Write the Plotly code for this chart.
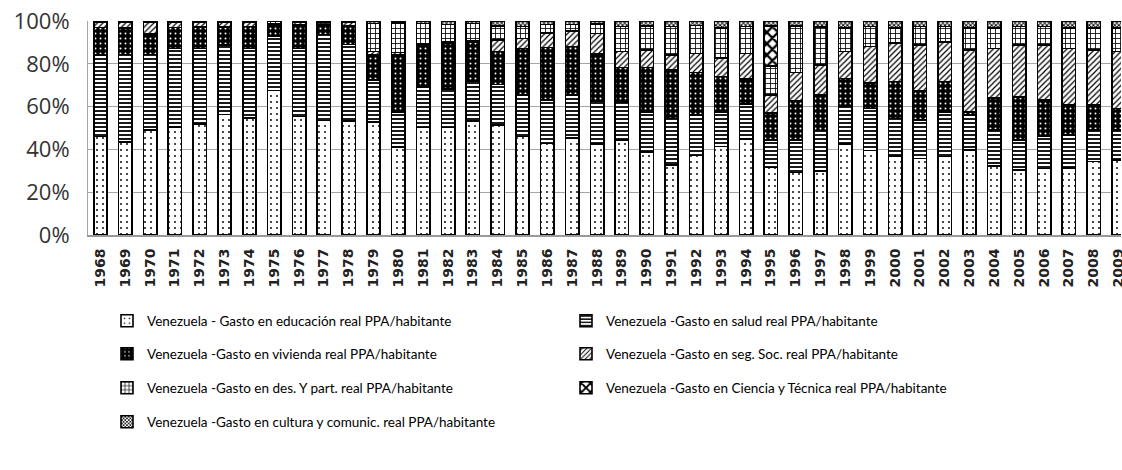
import plotly.graph_objects as go

years = ["1968", "1969", "1970", "1971", "1972", "1973", "1974", "1975", "1976", "1977",
         "1978", "1979", "1980", "1981", "1982", "1983", "1984", "1985", "1986", "1987",
         "1988", "1989", "1990", "1991", "1992", "1993", "1994", "1995", "1996", "1997",
         "1998", "1999", "2000", "2001", "2002", "2003", "2004", "2005", "2006", "2007",
         "2008", "2009"]

educacion = [46, 43.6, 49, 50.6, 51.9, 56.4, 54.8, 67.5, 55.3, 53.5,
             53.3, 52.8, 41, 50.2, 50.2, 53.3, 51.4, 46, 42.7, 45.3,
             42.6, 44.4, 38.9, 32.7, 37.1, 41.3, 45, 31.5, 29.2, 30,
             42.5, 39.4, 36.9, 35.8, 36.6, 39.7, 32.2, 30.4, 31, 31.2,
             34.3, 35]
salud = [38, 40.8, 35.4, 36.6, 35.3, 32.4, 32.4, 25.6, 31.9, 40.2,
         35.8, 19.6, 16.2, 19.1, 18, 18.8, 19, 19.4, 20.4, 20.1,
         19.7, 17.6, 18.7, 21.8, 19, 16.3, 16.1, 12.9, 15.2, 18.9,
         17.8, 19.8, 17.6, 17.9, 21, 16.4, 16.9, 14, 15, 15.5,
         14.8, 14.1]
vivienda = [13, 12.2, 9.4, 9.7, 10, 8.4, 10.2, 5.4, 10.9, 4.6,
            8.7, 11.9, 27, 19.5, 21.4, 18.2, 15.3, 21.8, 24.5, 22.6,
            22.2, 16.3, 20.6, 22.6, 19.8, 16.4, 11.7, 12.5, 18.4, 16.7,
            12.9, 11.7, 17.2, 13.7, 14.1, 1.5, 14.8, 20.2, 17.4, 14,
            11.6, 10.1]
seg_soc = [2.6, 3, 5.8, 2.7, 2.4, 2.4, 2.2, 0, 1.5, 0,
           1.8, 1.4, 1.1, 0.5, 0.5, 0.5, 5.4, 4.7, 6.9, 7.2,
           9.7, 7.4, 8.2, 7, 9, 8.6, 12.1, 8.5, 13.1, 13.8,
           12.5, 17.1, 17.9, 21.4, 18.6, 28.8, 23.3, 24.2, 25.4, 26.5,
           25.7, 26.5]
des_part = [0, 0, 0, 0, 0, 0, 0, 1.2, 0, 1.3,
            0, 13.2, 13.8, 9.6, 8.3, 8.1, 6.7, 5.5, 3.9, 3.2,
            4.4, 11.7, 11.4, 13.3, 13, 14, 12.5, 13.6, 21.8, 17.8,
            10.9, 9.4, 7, 8.6, 7.1, 10.2, 9.4, 8.6, 8.6, 9.4,
            10.2, 10.9]
ciencia = [0, 0, 0, 0, 0, 0, 0, 0, 0, 0,
           0, 0, 0, 0, 0, 0, 0, 0, 0, 0,
           0, 0, 0, 0, 0, 0, 0, 18.6, 0, 0,
           0, 0, 0, 0, 0, 0, 0, 0, 0, 0,
           0, 0]
cultura = [0.4, 0.4, 0.4, 0.4, 0.4, 0.4, 0.4, 0.3, 0.4, 0.4,
           0.4, 1.1, 0.9, 1.1, 1.6, 1.1, 2.2, 2.6, 1.6, 1.6,
           1.4, 2.6, 2.2, 2.6, 2.1, 3.4, 2.6, 2.4, 2.3, 2.8,
           3.4, 2.6, 3.4, 2.6, 2.6, 3.4, 3.4, 2.6, 2.6, 3.4,
           3.4, 3.4]

y_ticks = [0, 20, 40, 60, 80, 100]
y_tick_labels = ["0%", "20%", "40%", "60%", "80%", "100%"]

names = [
    "Venezuela - Gasto en educación real PPA/habitante",
    "Venezuela -Gasto en salud real PPA/habitante",
    "Venezuela -Gasto en vivienda real PPA/habitante",
    "Venezuela -Gasto en seg. Soc. real PPA/habitante",
    "Venezuela -Gasto en des. Y part. real PPA/habitante",
    "Venezuela -Gasto en Ciencia y Técnica real PPA/habitante",
    "Venezuela -Gasto en cultura y comunic. real PPA/habitante",
]
series = [educacion, salud, vivienda, seg_soc, des_part, ciencia, cultura]
patterns = [
    dict(shape=".", fgcolor="black", bgcolor="white", size=6, solidity=0.08, fillmode="replace"),
    dict(shape="-", fgcolor="black", bgcolor="white", size=4, solidity=0.45, fillmode="replace"),
    dict(shape=".", fgcolor="white", bgcolor="black", size=5, solidity=0.12, fillmode="replace"),
    dict(shape="/", fgcolor="black", bgcolor="white", size=4, solidity=0.3, fillmode="replace"),
    dict(shape="+", fgcolor="black", bgcolor="white", size=5, solidity=0.3, fillmode="replace"),
    dict(shape="x", fgcolor="black", bgcolor="white", size=8, solidity=0.5, fillmode="replace"),
    dict(shape="x", fgcolor="black", bgcolor="white", size=3, solidity=0.5, fillmode="replace"),
]
legend_ids = ["legend", "legend", "legend2", "legend2", "legend3", "legend3", "legend4"]

fig = go.Figure()
for name, vals, pat, lg in zip(names, series, patterns, legend_ids):
    fig.add_trace(go.Bar(
        x=years, y=vals, name=name, legend=lg,
        marker=dict(color="white", pattern=pat, line=dict(color="black", width=1.6)),
        hoverinfo="skip",
    ))

leg_font = dict(family="Lato, Open Sans, sans-serif", size=13.5, color="black")
def mk_legend(row_px):
    return dict(orientation="h", xref="container", yref="container",
                x=107 / 1122, y=1 - (row_px - 1) / 470, xanchor="left", yanchor="middle",
                entrywidth=414, entrywidthmode="pixels",
                font=leg_font, bgcolor="rgba(0,0,0,0)", traceorder="normal",
                itemclick=False, itemdoubleclick=False)

fig.update_layout(
    width=1122, height=470,
    margin=dict(l=88, r=1, t=21, b=235),
    paper_bgcolor="white", plot_bgcolor="white",
    barmode="stack", barnorm="percent", bargap=0.46,
    showlegend=True, hovermode=False,
    legend=mk_legend(322),
    legend2=mk_legend(355),
    legend3=mk_legend(389),
    legend4=mk_legend(423),
    xaxis=dict(
        type="category", range=[-0.5, 41.1], tickangle=-90, automargin=False,
        tickfont=dict(family="DejaVu Sans, sans-serif", size=14, color="#222", weight="bold"),
        showline=True, linecolor="#999", linewidth=2, ticks="", showgrid=False,
        ticklabeloverflow="allow", ticklabelstandoff=6,
    ),
    yaxis=dict(
        range=[0, 100], tickmode="array", tickvals=y_ticks, ticktext=y_tick_labels,
        automargin=False,
        tickfont=dict(family="Open Sans, sans-serif", size=22, color="#333"),
        showgrid=True, gridcolor="#a6a6a6", gridwidth=1,
        showline=True, linecolor="#a6a6a6", linewidth=1, zeroline=False,
        ticks="", ticklabelstandoff=13,
    ),
)

fig.write_html("out.html", config={"displayModeBar": False, "staticPlot": True},
               post_script="document.body.style.margin='0';document.body.style.overflow='hidden';")
